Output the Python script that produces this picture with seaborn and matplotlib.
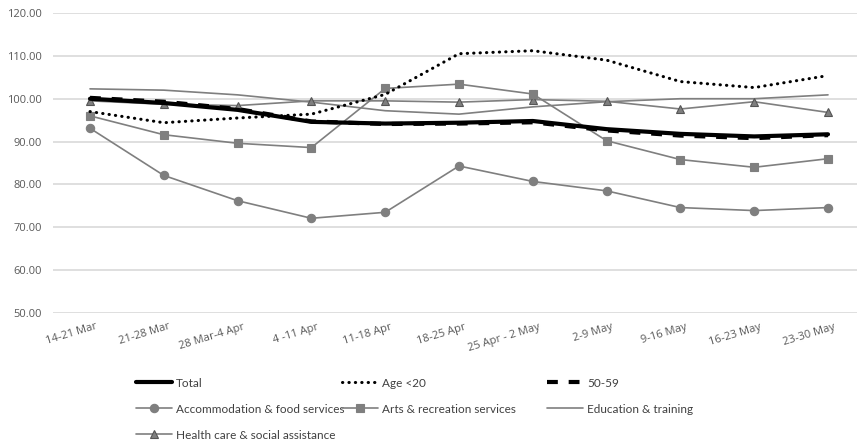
import matplotlib
matplotlib.use("Agg")
import matplotlib.pyplot as plt
import matplotlib.transforms as mtransforms
from matplotlib.lines import Line2D
import seaborn as sns
import pandas as pd

categories = ["14-21 Mar", "21-28 Mar", "28 Mar-4 Apr", "4 -11 Apr", "11-18 Apr",
              "18-25 Apr", "25 Apr - 2 May", "2-9 May", "9-16 May", "16-23 May", "23-30 May"]

total = [100.0, 99.0, 97.4, 94.6, 94.2, 94.4, 94.8, 92.9, 91.8, 91.2, 91.7]
age_under20 = [97.0, 94.4, 95.5, 96.4, 101.0, 110.5, 111.2, 109.0, 104.0, 102.6, 105.4]
age_50_59 = [100.2, 99.3, 97.6, 94.7, 94.1, 94.2, 94.5, 92.6, 91.4, 90.8, 91.5]
accommodation = [93.1, 82.1, 76.2, 72.1, 73.5, 84.3, 80.7, 78.5, 74.6, 73.9, 74.6]
arts = [96.0, 91.6, 89.6, 88.6, 102.4, 103.4, 101.1, 90.2, 85.8, 84.0, 86.0]
education = [102.3, 102.0, 100.9, 99.2, 97.2, 96.4, 98.1, 99.3, 100.0, 100.0, 100.9]
health = [99.5, 98.7, 98.4, 99.5, 99.5, 99.2, 99.8, 99.4, 97.6, 99.3, 96.8]

series_names = ["Total", "Age <20", "50-59", "Accommodation & food services",
                "Arts & recreation services", "Education & training",
                "Health care & social assistance"]
series_values = [total, age_under20, age_50_59, accommodation, arts, education, health]

y_ticks = [50, 60, 70, 80, 90, 100, 110, 120]

sns.set_style("white")
plt.rcParams["font.family"] = ["Open Sans", "DejaVu Sans"]

GRAY = "#7f7f7f"
styles = {
    "Total": dict(color="black", lw=3.0, ls="-", marker=None),
    "Age <20": dict(color="black", lw=2.2, ls=(0, (0.1, 2.0)), marker=None, dash_capstyle="round"),
    "50-59": dict(color="black", lw=3.0, ls=(0, (2.6, 2.6)), marker=None),
    "Accommodation & food services": dict(color=GRAY, lw=1.2, ls="-", marker="o", ms=6,
                                          mfc=GRAY, mec=GRAY),
    "Arts & recreation services": dict(color=GRAY, lw=1.2, ls="-", marker="s", ms=5.5,
                                       mfc=GRAY, mec=GRAY),
    "Education & training": dict(color=GRAY, lw=1.2, ls="-", marker=None),
    "Health care & social assistance": dict(color=GRAY, lw=1.2, ls="-", marker="^", ms=6,
                                            mfc=GRAY, mec="#555555"),
}

fig = plt.figure(figsize=(8.57, 4.40), dpi=100)
W, H = 857.0, 440.0
ax = fig.add_axes([53.1 / W, 1 - 313 / H, 811.8 / W, 300 / H])

draw_order = ["Education & training", "Health care & social assistance", "Arts & recreation services",
              "Accommodation & food services", "Age <20", "Total", "50-59"]
for name in draw_order:
    vals = series_values[series_names.index(name)]
    df = pd.DataFrame({"week": categories, "value": vals})
    st = styles[name]
    kw = dict(color=st["color"], linewidth=st["lw"], linestyle=st["ls"])
    if st.get("marker"):
        kw.update(marker=st["marker"], markersize=st["ms"], markerfacecolor=st["mfc"],
                  markeredgecolor=st["mec"], markeredgewidth=0.8)
    if st.get("dash_capstyle"):
        kw.update(dash_capstyle=st["dash_capstyle"])
    sns.lineplot(data=df, x="week", y="value", sort=False, ax=ax, legend=False, **kw)

ax.set_xlim(-0.5, 10.5)
ax.set_ylim(50, 120)
ax.set_yticks(y_ticks)
ax.set_yticklabels([f"{v:.2f}" for v in y_ticks])
ax.set_xlabel("")
ax.set_ylabel("")
ax.grid(axis="y", color="#d9d9d9", linewidth=1.2)
ax.grid(axis="x", visible=False)
ax.set_axisbelow(True)
for s in ax.spines.values():
    s.set_visible(False)
ax.tick_params(axis="y", length=0, pad=8, labelsize=8, labelcolor="#595959")
ax.tick_params(axis="x", length=0, pad=6, labelsize=8, labelcolor="#595959")
offset = mtransforms.ScaledTranslation(5 / 100, 0, fig.dpi_scale_trans)
for lab in ax.get_xticklabels():
    lab.set_rotation(17)
    lab.set_ha("right")
    lab.set_va("top")
    lab.set_rotation_mode("anchor")
    lab.set_transform(lab.get_transform() + offset)

# Legend: one entry per small legend, arranged in 3 columns
legend_pos = {
    "Total": (136, 383),
    "Age <20": (342, 383),
    "50-59": (547, 383),
    "Accommodation & food services": (136, 409),
    "Arts & recreation services": (342, 409),
    "Education & training": (547, 409),
    "Health care & social assistance": (136, 435),
}
leg_font = dict(family=["Lato", "DejaVu Sans"], size=8.5)
fs_px = 8.5 * 100 / 72
for name in series_names:
    st = styles[name]
    hk = dict(color=st["color"], linewidth=st["lw"], linestyle=st["ls"])
    if st.get("marker"):
        hk.update(marker=st["marker"], markersize=st["ms"], markerfacecolor=st["mfc"],
                  markeredgecolor=st["mec"], markeredgewidth=0.8)
    if st.get("dash_capstyle"):
        hk.update(dash_capstyle=st["dash_capstyle"])
    h = Line2D([], [], **hk)
    x, y = legend_pos[name]
    leg = fig.legend([h], [name], loc="center left", bbox_to_anchor=(x / W, 1 - y / H),
                     frameon=False, borderpad=0, borderaxespad=0, handlelength=36 / fs_px,
                     handletextpad=4 / fs_px, prop=leg_font)
    for t in leg.get_texts():
        t.set_color("#404040")

fig.savefig("out.png", dpi=100)
